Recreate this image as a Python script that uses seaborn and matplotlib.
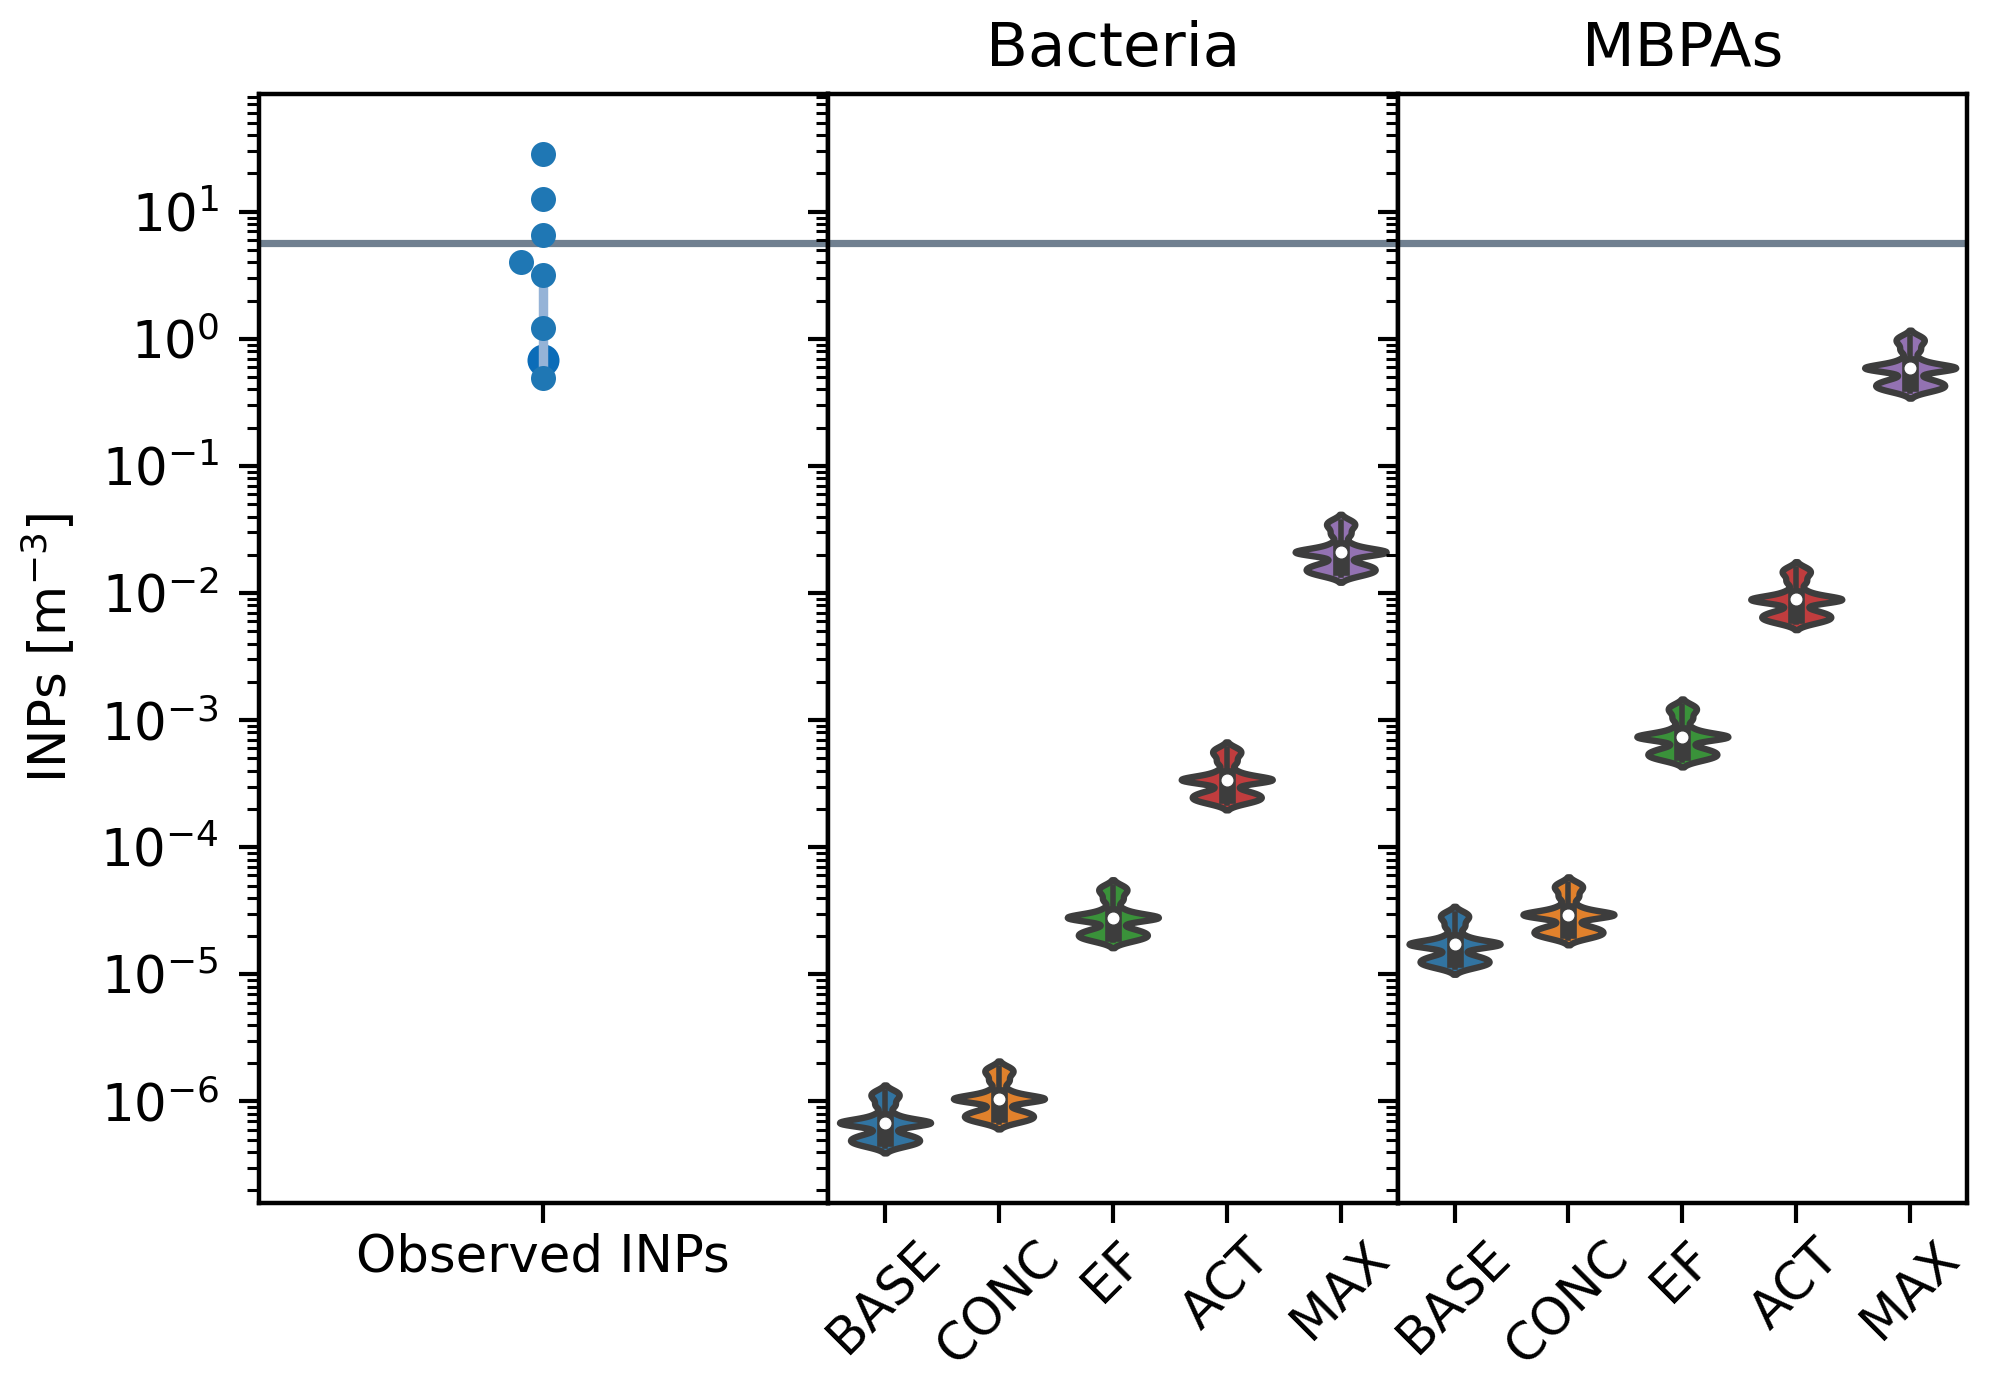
import pandas as pd
import matplotlib.pyplot as plt
import seaborn as sns

# observed INPs (single station samples), m^-3
obs_label = "Observed INPs"
obs_inp = [28.2, 12.6, 6.55, 4.0, 3.18, 1.21, 0.49]
# summary marker + range drawn over the samples
obs_summary = [0.53, 0.68, 2.85]

# reference level drawn across all panels
ref_level = 5.7

scenarios = ["BASE", "CONC", "EF", "ACT", "MAX"]
bact_median = [6.8e-7, 1.05e-6, 2.8e-5, 3.4e-4, 2.1e-2]
mbpa_median = [1.73e-5, 2.95e-5, 7.4e-4, 8.9e-3, 0.59]
# spread of model values around the median (log10 offsets), same for every run
spread = [-0.18, -0.16, -0.145, -0.13, -0.11, -0.09, 0.0, 0.0, 0.0, 0.0, 0.0,
          0.06, 0.14, 0.20, 0.24]


def model_frame(medians):
    rows = []
    for name, med in zip(scenarios, medians):
        for s in spread:
            rows.append({"scenario": name, "inp": med * 10 ** s})
    return pd.DataFrame(rows)


bact = model_frame(bact_median)
mbpa = model_frame(mbpa_median)

plt.rcParams.update({
    "font.family": ["DejaVu Sans"],
    "axes.linewidth": 1.6,
    "xtick.major.size": 7.2, "xtick.major.width": 1.5, "xtick.major.pad": 3.5,
    "ytick.major.size": 7.2, "ytick.major.width": 1.5, "ytick.major.pad": 7,
    "ytick.minor.size": 4.3, "ytick.minor.width": 1.1, "ytick.minor.pad": 7,
    "xtick.labelsize": 18.5, "ytick.labelsize": 18.5,
    "axes.labelsize": 18.5, "axes.titlesize": 22,
})

fig, axes = plt.subplots(1, 3, sharey=True, figsize=(9.945, 6.88), dpi=200)
plt.subplots_adjust(left=0.130, right=0.989, top=0.932, bottom=0.126, wspace=0)
for ax in axes:
    ax.set_yscale("log")
    ax.axhline(ref_level, color="slategray", lw=2.6, zorder=0.5)

# observed panel
ax = axes[0]
sns.swarmplot(x=[obs_label] * len(obs_inp), y=obs_inp, color="#1f77b4", size=9, ax=ax)
sns.pointplot(x=[obs_label] * len(obs_summary), y=obs_summary, estimator="median",
              errorbar=("pi", 100), color="#0b6cb8", markersize=9.5,
              err_kws={"color": "#95b3d7", "linewidth": 3.4}, ax=ax)
ax.set_xlabel("")
ax.set_ylabel("INPs [m$^{-3}$]", labelpad=8)

for ax, df, title in [(axes[1], bact, "Bacteria"), (axes[2], mbpa, "MBPAs")]:
    sns.violinplot(data=df, x="scenario", y="inp", hue="scenario", order=scenarios,
                   palette="tab10", legend=False, inner="box", linewidth=2.3,
                   bw_adjust=0.38, cut=2, width=0.8,
                   inner_kws={"box_width": 6.0, "whis_width": 2.0, "marker": "o"}, ax=ax)
    # small white median dots
    for line in ax.lines:
        if line.get_marker() == "o":
            line.set_markersize(3.8)
            line.set_markerfacecolor("white")
            line.set_markeredgecolor("white")
            line.set_markeredgewidth(0.5)
    ax.set_title(title, pad=10)
    ax.set_xlabel("")
    ax.set_ylabel("")
    ax.tick_params(axis="x", labelrotation=45)

axes[0].set_ylim(1.6e-7, 85)

fig.savefig("out.png", dpi=200)
